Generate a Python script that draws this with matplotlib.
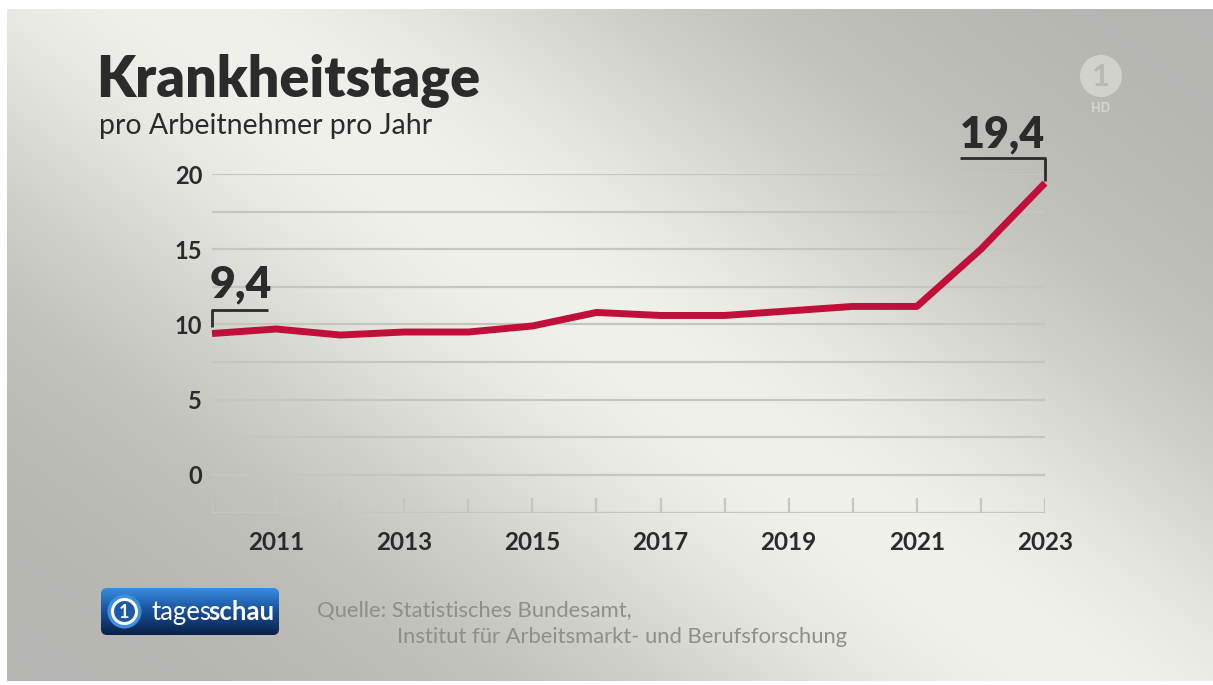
import numpy as np
import matplotlib
matplotlib.use("Agg")
import matplotlib.pyplot as plt
from matplotlib.patches import FancyBboxPatch, Circle

# DATA --------------------------------------------------------------------
years = [2010, 2011, 2012, 2013, 2014, 2015, 2016, 2017, 2018, 2019, 2020, 2021, 2022, 2023]
sick_days = [9.4, 9.7, 9.3, 9.5, 9.5, 9.9, 10.8, 10.6, 10.6, 10.9, 11.2, 11.2, 15.0, 19.4]
label_years = [2011, 2013, 2015, 2017, 2019, 2021, 2023]
y_labels = [0, 5, 10, 15, 20]

title = "Krankheitstage"
subtitle = "pro Arbeitnehmer pro Jahr"
source_1 = "Quelle: Statistisches Bundesamt,"
source_2 = "Institut für Arbeitsmarkt- und Berufsforschung"

W, H = 1213, 685
FONT = "Lato"
DARK = "#2b2b2b"
RED = "#c0103a"

fig = plt.figure(figsize=(W / 100, H / 100), dpi=100)
fig.patch.set_facecolor("white")

# background layer in pixel coordinates
bg = fig.add_axes([0, 0, 1, 1], zorder=0)
bg.set_xlim(0, W)
bg.set_ylim(H, 0)
bg.axis("off")

X, Y = np.meshgrid(np.arange(W), np.arange(H))
d = (X - 180) * 0.607 - Y * 0.794
v = 0.71 + 0.235 * np.exp(-(d / 290.0) ** 2)
img = np.dstack([v, v, v * 0.975])
bg.imshow(img, extent=(7, W, H - 4, 9), aspect="auto", zorder=0)

# title
bg.text(96, 97, title, fontsize=40, fontweight="heavy", family=FONT, color=DARK, va="baseline")
bg.text(99, 134, subtitle, fontsize=20.5, family=FONT, color=DARK, va="baseline")

# source
bg.text(317, 617, source_1, fontsize=15.8, family=FONT, color="#8e8e8b", va="baseline")
bg.text(397, 643, source_2, fontsize=15.8, family=FONT, color="#8e8e8b", va="baseline")

# tagesschau logo
box = FancyBboxPatch((101, 588), 178, 47, boxstyle="round,pad=0,rounding_size=6",
                     facecolor="none", edgecolor="none", zorder=2)
bg.add_patch(box)
grad = np.linspace(0, 1, 100)[:, None]
blue_top = np.array([0.22, 0.55, 0.88])
blue_mid = np.array([0.10, 0.33, 0.62])
blue_bot = np.array([0.04, 0.13, 0.28])
g = grad[..., None]
cols = np.where(g < 0.45, blue_top * (1 - g / 0.45) + blue_mid * (g / 0.45),
                blue_mid * (1 - (g - 0.45) / 0.55) + blue_bot * ((g - 0.45) / 0.55))
cols = np.repeat(cols, 2, axis=1)
im = bg.imshow(cols, extent=(101, 279, 635, 588), aspect="auto", zorder=2)
im.set_clip_path(box)
bg.add_patch(Circle((124.5, 611.5), 17, facecolor="#3d8fe0", edgecolor="none", zorder=3))
bg.add_patch(Circle((124.5, 611.5), 12, facecolor="#1c5aa6", edgecolor="white", lw=2.2, zorder=3))
bg.text(124.5, 612, "1", fontsize=13, fontweight="bold", family=FONT, color="white",
        ha="center", va="center", zorder=4)
bg.text(152, 620, "tages", fontsize=18.5, family=FONT, color="white", va="baseline", zorder=4)
bg.text(208, 620, "schau", fontsize=18.5, fontweight="bold", family=FONT, color="white",
        va="baseline", zorder=4)

# ARD HD mark
bg.add_patch(Circle((1101, 76), 21, facecolor="#d6d6d0", edgecolor="none", alpha=0.9, zorder=2))
bg.text(1101, 77, "1", fontsize=22, fontweight="bold", family=FONT, color="#b9b9b1",
        ha="center", va="center", zorder=3)
bg.text(1101, 108, "HD", fontsize=9, fontweight="bold", family=FONT, color="#d6d6d0",
        ha="center", va="center", zorder=3)

# CHART --------------------------------------------------------------------
ax = fig.add_axes([212 / W, (H - 512.6) / H, (1045 - 212) / W, (512.6 - 174) / H], zorder=1)
ax.patch.set_alpha(0)
ax.set_xlim(years[0], years[-1])
ax.set_ylim(-2.5, 20)
for s in ax.spines.values():
    s.set_visible(False)

grid_levels = np.arange(-2.5, 20.1, 2.5)
ax.hlines(grid_levels, years[0], years[-1], color="#c6c6c0", lw=1.6, zorder=1)
ax.vlines(years, -2.5, -1.55, color="#c6c6c0", lw=1.6, zorder=1)

ax.plot(years, sick_days, color=RED, lw=5, solid_joinstyle="round", solid_capstyle="butt",
        zorder=3, clip_on=False)

ax.set_yticks(y_labels)
ax.set_yticklabels([str(v) for v in y_labels], fontsize=17, fontweight="bold",
                   family=FONT, color=DARK)
ax.set_xticks(label_years)
ax.set_xticklabels([str(v) for v in label_years], fontsize=17.5, fontweight="bold",
                   family=FONT, color=DARK)
ax.tick_params(axis="y", length=0, pad=7)
ax.tick_params(axis="x", length=0, pad=13)

# value brackets
x0, v0 = years[0], sick_days[0]
ax.plot([x0, x0, x0 + 0.88], [v0 + 0.45, v0 + 1.55, v0 + 1.55], color=DARK, lw=2,
        solid_capstyle="butt", clip_on=False, zorder=4)
ax.text(x0 - 0.03, v0 + 2.4, f"{v0:.1f}".replace(".", ","), fontsize=32, fontweight="heavy",
        family=FONT, color=DARK, ha="left", va="baseline")

x1, v1 = years[-1], sick_days[-1]
ax.plot([x1 - 1.33, x1, x1], [v1 + 1.65, v1 + 1.65, v1 + 0.15], color=DARK, lw=2,
        solid_capstyle="butt", clip_on=False, zorder=4)
ax.text(x1, v1 + 2.35, f"{v1:.1f}".replace(".", ","), fontsize=31, fontweight="heavy",
        family=FONT, color=DARK, ha="right", va="baseline")

fig.savefig("out.png", dpi=100)
